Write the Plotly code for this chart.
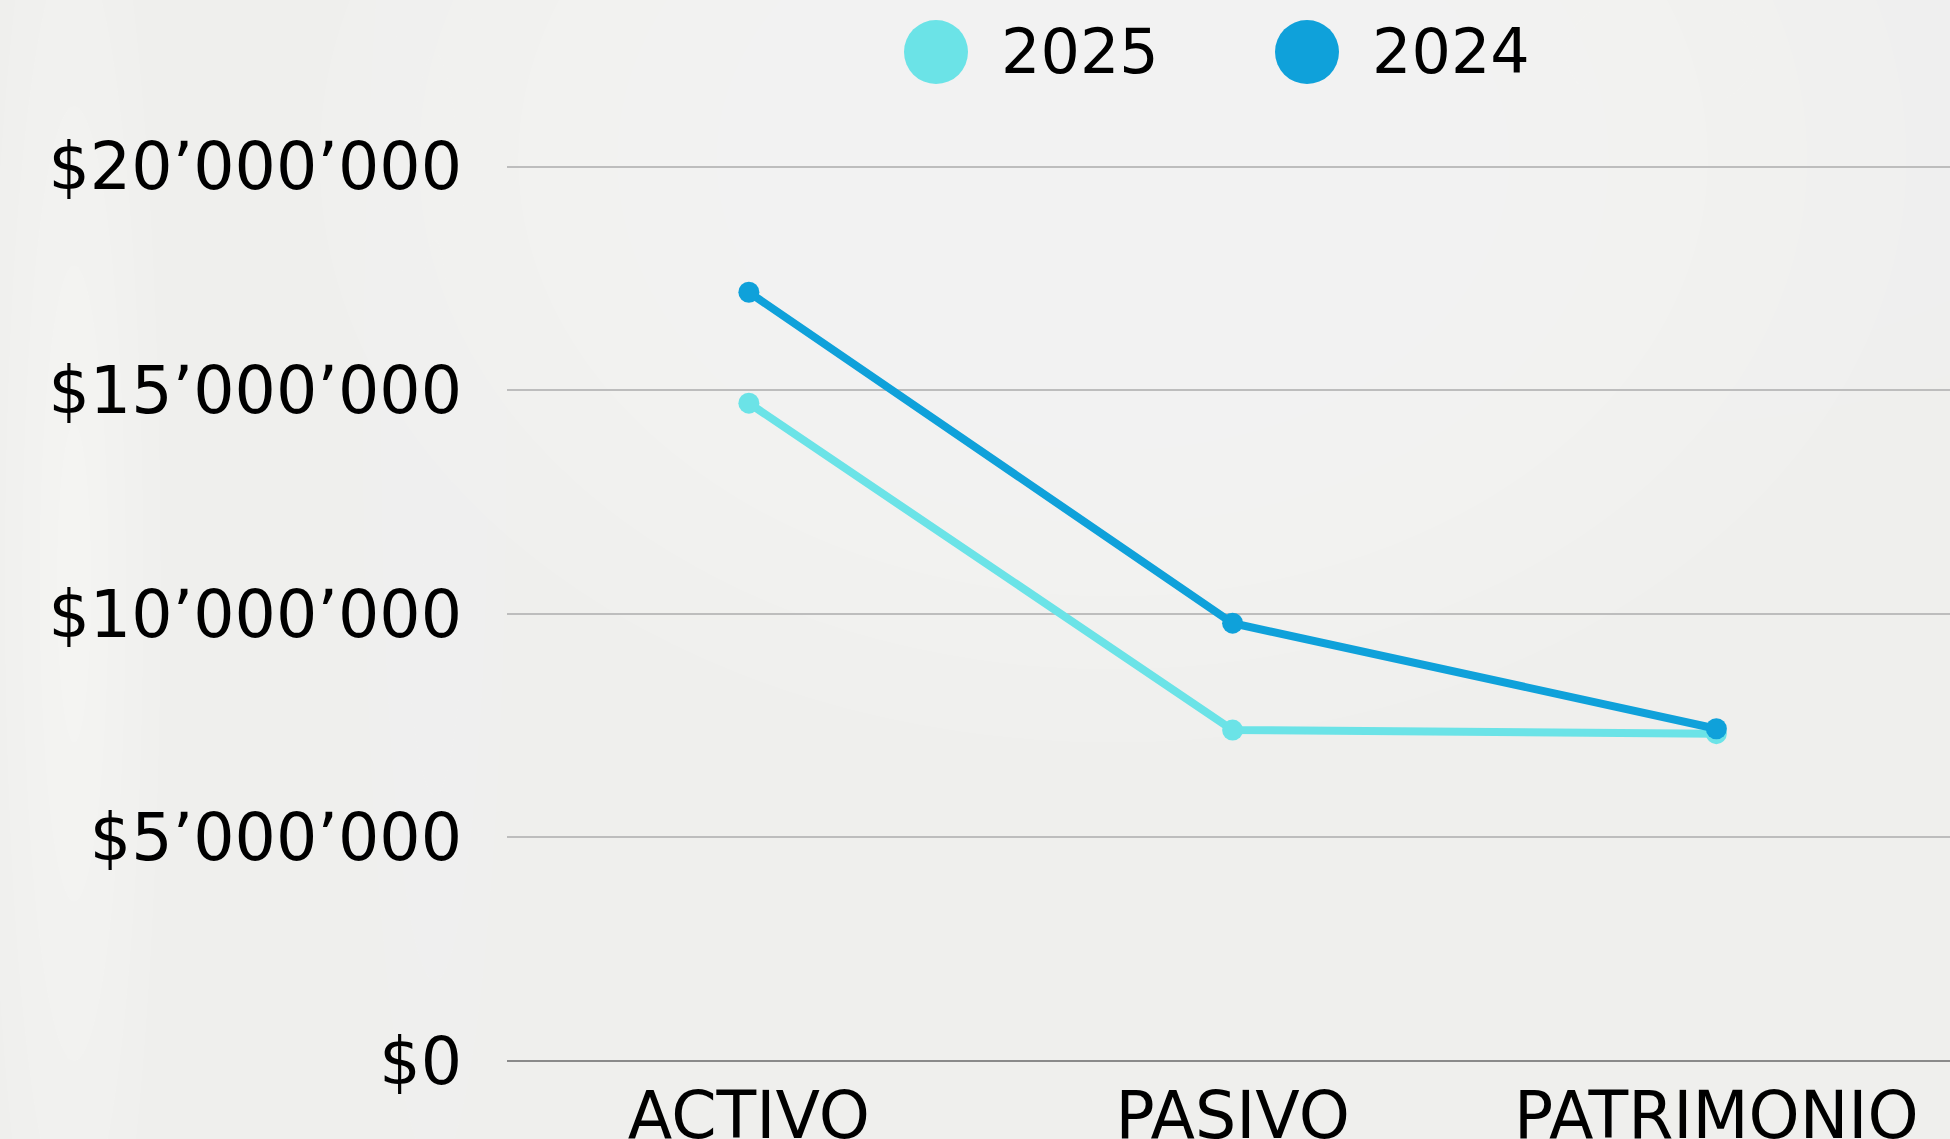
import plotly.graph_objects as go

# ---- data ----
categories = ["ACTIVO", "PASIVO", "PATRIMONIO"]
series_names = ["2025", "2024"]
values_2025 = [14710000, 7400000, 7320000]
values_2024 = [17190000, 9790000, 7430000]
y_tick_vals = [0, 5000000, 10000000, 15000000, 20000000]
y_tick_text = ["$0", "$5’000’000", "$10’000’000", "$15’000’000", "$20’000’000"]

colors = {"2025": "#6be3e7", "2024": "#0fa1da"}
FONT = "DejaVu Sans"
FS = 65
FS_LEG = 62

W, H = 1950, 1139
ML, MR, MT, MB = 507, 0, 0, 78
plot_h = H - MT - MB
y_top = 20000000 * plot_h / (1061 - 166.6)

fig = go.Figure()
for name, vals in [("2025", values_2025), ("2024", values_2024)]:
    fig.add_trace(go.Scatter(
        x=categories, y=vals, name=name, mode="lines+markers",
        line=dict(color=colors[name], width=8),
        marker=dict(color=colors[name], size=21),
        showlegend=False, cliponaxis=False,
    ))

shapes = []
# soft background light areas (layered for a diffuse look)
def blob(cx, cy, rx, ry, n, op):
    for k in range(n):
        f = 1 - k / n
        shapes.append(dict(type="circle", xref="paper", yref="paper",
                           x0=cx - rx * f, x1=cx + rx * f, y0=cy - ry * f, y1=cy + ry * f,
                           fillcolor="white", opacity=op, line=dict(width=0), layer="below"))

blob(0.42, 0.85, 0.55, 0.55, 8, 0.07)
blob(0.80, 0.95, 0.40, 0.35, 6, 0.06)
blob(-0.30, 0.45, 0.06, 0.75, 5, 0.10)
blob(-0.05, 0.60, 0.05, 0.7, 4, 0.06)

# legend (custom, large markers)
leg_y = (H - MB - 52) / plot_h
annotations = []
for i, name in enumerate(series_names):
    cx = [936, 1307][i]
    xp = (cx - ML) / (W - ML - MR)
    shapes.append(dict(type="circle", xref="paper", yref="paper", xsizemode="pixel", ysizemode="pixel",
                       xanchor=xp, yanchor=leg_y, x0=-32, x1=32, y0=-32, y1=32,
                       fillcolor=colors[name], line=dict(width=0)))
    tx = ((cx + 63) - ML) / (W - ML - MR)
    annotations.append(dict(xref="paper", yref="paper", x=tx, y=leg_y, xanchor="left", yanchor="middle",
                            text=name, showarrow=False, font=dict(family=FONT, size=FS_LEG, color="#000")))

fig.update_layout(
    width=W, height=H,
    margin=dict(l=ML, r=MR, t=MT, b=MB, pad=0),
    paper_bgcolor="#efefed", plot_bgcolor="rgba(0,0,0,0)",
    shapes=shapes, annotations=annotations,
    showlegend=False,
    xaxis=dict(type="category", range=[-0.5, 2.483], showgrid=False, showline=False, zeroline=False,
               tickfont=dict(family=FONT, size=FS, color="#000"), ticks="", automargin=False,
               ticklabelstandoff=11),
    yaxis=dict(range=[0, y_top], tickvals=y_tick_vals, ticktext=y_tick_text,
               showgrid=True, gridcolor="#bdbdbd", gridwidth=2,
               zeroline=True, zerolinecolor="#8a8a8a", zerolinewidth=2,
               showline=False, ticks="", automargin=False,
               tickfont=dict(family=FONT, size=FS, color="#000"), ticklabelstandoff=44),
)

fig.write_html("out.html", config={"displayModeBar": False},
               post_script="document.body.style.margin='0';document.body.style.overflow='hidden';")
